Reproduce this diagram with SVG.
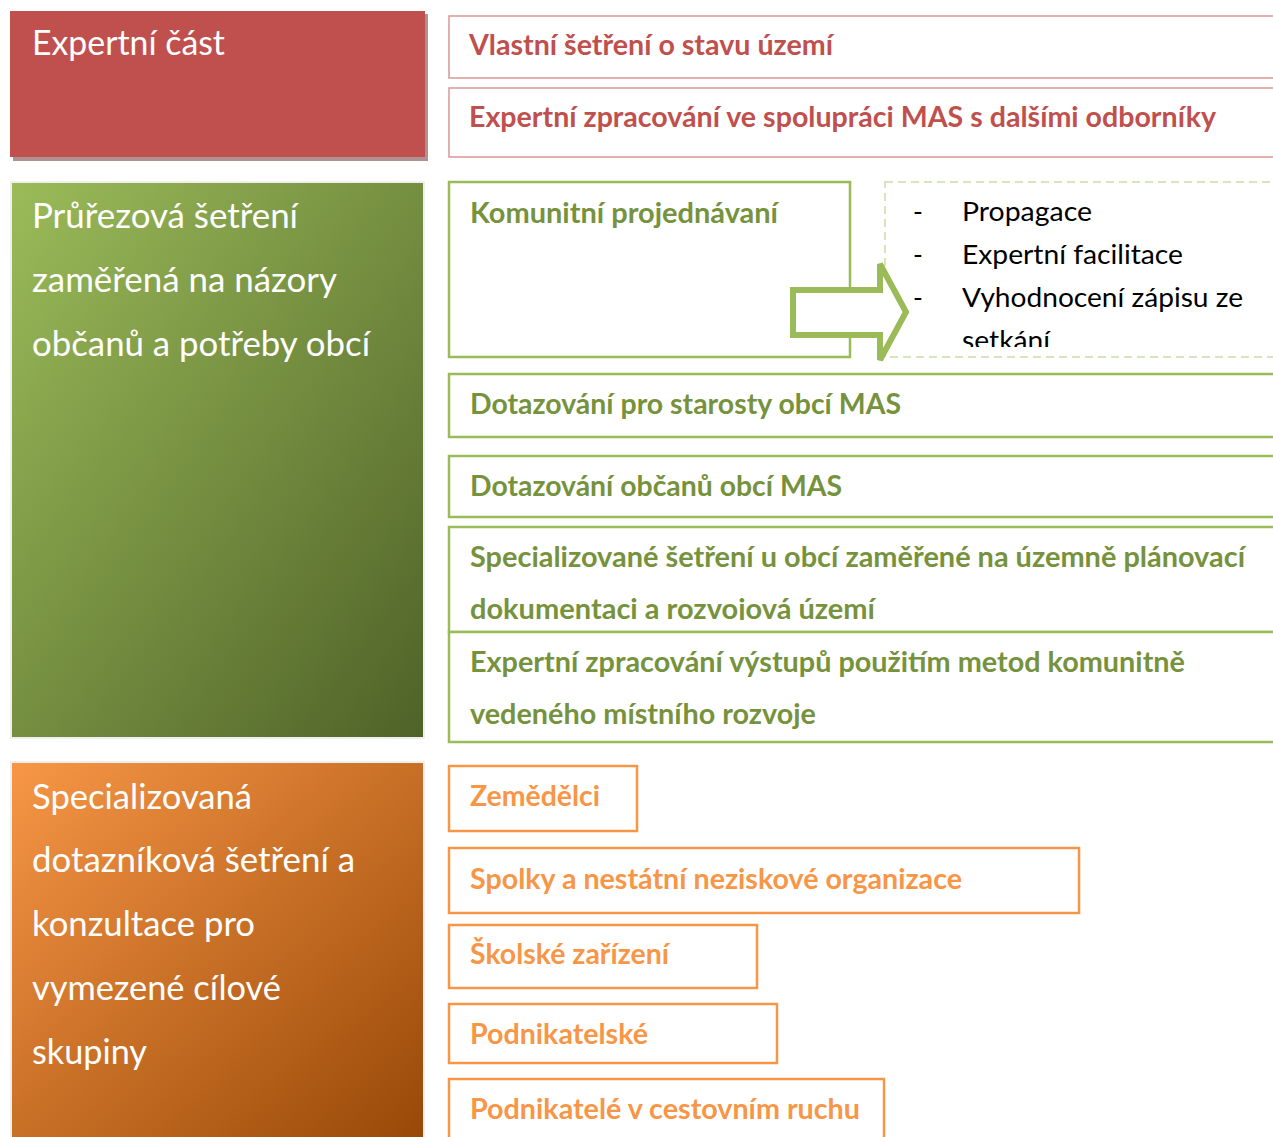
<svg xmlns="http://www.w3.org/2000/svg" width="1273" height="1137" viewBox="0 0 1273 1137">
<style>
.hd{font-family:Lato,"Liberation Sans",sans-serif;font-size:34px;fill:#ffffff}
.rt{font-family:Lato,"Liberation Sans",sans-serif;font-size:28px;font-weight:bold;fill:#C0504D}
.gt{font-family:Lato,"Liberation Sans",sans-serif;font-size:28px;font-weight:bold;fill:#76923C}
.ot{font-family:Lato,"Liberation Sans",sans-serif;font-size:28px;font-weight:bold;fill:#F79646}
.bt{font-family:Lato,"Liberation Sans",sans-serif;font-size:26.5px;fill:#000000}
.rb{fill:#ffffff;stroke:#D99694;stroke-width:1.5}
.gb{fill:#ffffff;stroke:#9BBB59;stroke-width:2.5}
.ob{fill:#ffffff;stroke:#F79646;stroke-width:2.5}
</style>
<defs>
<linearGradient id="gGreen" x1="0" y1="0" x2="1" y2="1">
<stop offset="0" stop-color="#9BBB59"/>
<stop offset="1" stop-color="#4F6228"/>
</linearGradient>
<linearGradient id="gOrange" x1="0" y1="0" x2="1" y2="1">
<stop offset="0" stop-color="#F79646"/>
<stop offset="1" stop-color="#984807"/>
</linearGradient>
<clipPath id="clipDash"><rect x="885" y="182" width="400" height="165"/></clipPath>
<clipPath id="clipSpec"><rect x="449" y="527" width="830" height="93"/></clipPath>
</defs>
<rect width="1273" height="1137" fill="#ffffff"/>

<g id="expertni-cast">
<rect x="13" y="14" width="415" height="147" fill="#B09090"/>
<rect x="10" y="11" width="415" height="146" fill="#C0504D"/>
<text class="hd" x="32" y="55" textLength="193" lengthAdjust="spacingAndGlyphs">Expertní část</text>
</g>

<g id="vlastni-setreni">
<rect class="rb" x="449" y="16" width="830" height="62"/>
<text class="rt" x="469" y="55" textLength="364" lengthAdjust="spacingAndGlyphs">Vlastní šetření o stavu území</text>
</g>
<g id="expertni-zpracovani-mas">
<rect class="rb" x="449" y="88" width="830" height="69"/>
<text class="rt" x="469" y="127" textLength="747" lengthAdjust="spacingAndGlyphs">Expertní zpracování ve spolupráci MAS s dalšími odborníky</text>
</g>

<g id="prurezova-setreni">
<rect x="10" y="181" width="415" height="558" fill="#EFEFEF"/>
<rect x="12" y="183" width="411" height="554" fill="url(#gGreen)"/>
<text class="hd" x="32" y="228" textLength="266" lengthAdjust="spacingAndGlyphs">Průřezová šetření</text>
<text class="hd" x="32" y="292" textLength="305" lengthAdjust="spacingAndGlyphs">zaměřená na názory</text>
<text class="hd" x="32" y="356" textLength="338" lengthAdjust="spacingAndGlyphs">občanů a potřeby obcí</text>
</g>

<g id="komunitni-projednavani">
<rect class="gb" x="449" y="182" width="401" height="175"/>
<text class="gt" x="470" y="223" textLength="308" lengthAdjust="spacingAndGlyphs">Komunitní projednávaní</text>
</g>

<g id="komunitni-detail">
<rect x="885" y="182" width="400" height="175" fill="#ffffff" stroke="#D7E4BD" stroke-width="2" stroke-dasharray="8,5"/>
<g clip-path="url(#clipDash)">
<text class="bt" x="913" y="221">-</text>
<text class="bt" x="962" y="221" textLength="130" lengthAdjust="spacingAndGlyphs">Propagace</text>
<text class="bt" x="913" y="264">-</text>
<text class="bt" x="962" y="264" textLength="221" lengthAdjust="spacingAndGlyphs">Expertní facilitace</text>
<text class="bt" x="913" y="307">-</text>
<text class="bt" x="962" y="307" textLength="281" lengthAdjust="spacingAndGlyphs">Vyhodnocení zápisu ze</text>
<text class="bt" x="962" y="350" textLength="88" lengthAdjust="spacingAndGlyphs">setkání</text>
</g>
</g>

<g id="connectors">
<path d="M793,290 L880,290 L880,264 L906,312 L880,360 L880,335 L793,335 Z" fill="#ffffff" stroke="#9BBB59" stroke-width="6" stroke-linejoin="miter"/>
</g>

<g id="dotazovani-starosty">
<rect class="gb" x="449" y="374" width="830" height="63"/>
<text class="gt" x="470" y="414" textLength="431" lengthAdjust="spacingAndGlyphs">Dotazování pro starosty obcí MAS</text>
</g>
<g id="dotazovani-obcanu">
<rect class="gb" x="449" y="456" width="830" height="61"/>
<text class="gt" x="470" y="496" textLength="372" lengthAdjust="spacingAndGlyphs">Dotazování občanů obcí MAS</text>
</g>
<g id="specializovane-setreni">
<rect class="gb" x="449" y="527" width="830" height="105"/>
<g clip-path="url(#clipSpec)">
<text class="gt" x="470" y="567" textLength="775" lengthAdjust="spacingAndGlyphs">Specializované šetření u obcí zaměřené na územně plánovací</text>
<text class="gt" x="470" y="619" textLength="405" lengthAdjust="spacingAndGlyphs">dokumentaci a rozvojová území</text>
</g>
</g>
<g id="expertni-zpracovani-vystupu">
<rect class="gb" x="449" y="632" width="830" height="110"/>
<text class="gt" x="470" y="672" textLength="715" lengthAdjust="spacingAndGlyphs">Expertní zpracování výstupů použitím metod komunitně</text>
<text class="gt" x="470" y="724" textLength="346" lengthAdjust="spacingAndGlyphs">vedeného místního rozvoje</text>
</g>

<g id="specializovana-setreni">
<rect x="10" y="761" width="415" height="380" fill="#EFEFEF"/>
<rect x="12" y="763" width="411" height="380" fill="url(#gOrange)"/>
<text class="hd" x="32" y="809" textLength="220" lengthAdjust="spacingAndGlyphs">Specializovaná</text>
<text class="hd" x="32" y="872" textLength="323" lengthAdjust="spacingAndGlyphs">dotazníková šetření a</text>
<text class="hd" x="32" y="936" textLength="223" lengthAdjust="spacingAndGlyphs">konzultace pro</text>
<text class="hd" x="32" y="1000" textLength="249" lengthAdjust="spacingAndGlyphs">vymezené cílové</text>
<text class="hd" x="32" y="1064" textLength="115" lengthAdjust="spacingAndGlyphs">skupiny</text>
</g>

<g id="zemedelci">
<rect class="ob" x="449" y="766" width="188" height="65"/>
<text class="ot" x="470" y="806" textLength="130" lengthAdjust="spacingAndGlyphs">Zemědělci</text>
</g>
<g id="spolky">
<rect class="ob" x="449" y="848" width="630" height="65"/>
<text class="ot" x="470" y="889" textLength="492" lengthAdjust="spacingAndGlyphs">Spolky a nestátní neziskové organizace</text>
</g>
<g id="skolske">
<rect class="ob" x="449" y="925" width="308" height="63"/>
<text class="ot" x="470" y="964" textLength="199" lengthAdjust="spacingAndGlyphs">Školské zařízení</text>
</g>
<g id="podnikatelske">
<rect class="ob" x="449" y="1004" width="328" height="59"/>
<text class="ot" x="470" y="1044" textLength="178" lengthAdjust="spacingAndGlyphs">Podnikatelské</text>
</g>
<g id="podnikatele-cestovni-ruch">
<rect class="ob" x="449" y="1079" width="435" height="70"/>
<text class="ot" x="470" y="1119" textLength="390" lengthAdjust="spacingAndGlyphs">Podnikatelé v cestovním ruchu</text>
</g>
</svg>
